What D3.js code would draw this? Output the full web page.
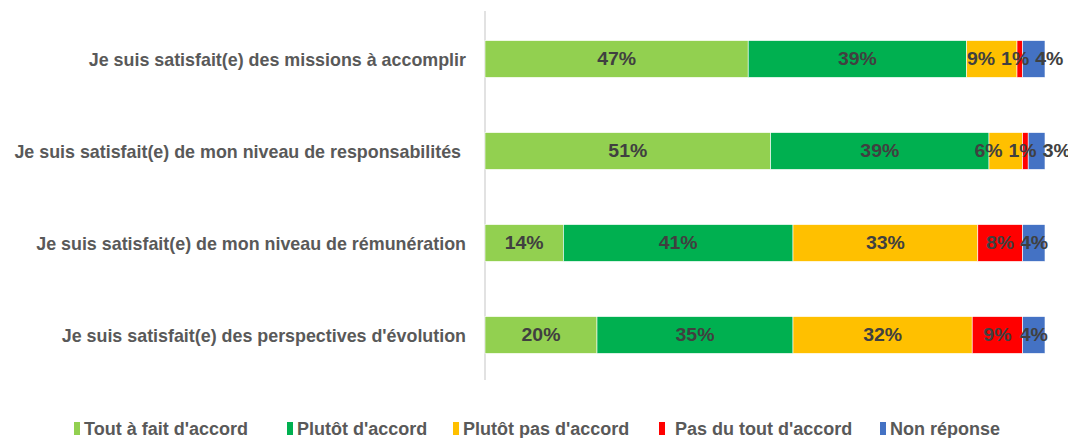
<!DOCTYPE html>
<html>
<head>
<meta charset="utf-8">
<script src="https://cdn.jsdelivr.net/npm/d3@7"></script>
<style>
    body { margin: 0; background: #fff; }
    text { font-family: "Liberation Sans", "DejaVu Sans", sans-serif; font-weight: bold; }
</style>
</head>
<body>
<div id="chart"></div>
<script>
/*
----------------------------------------------------
    Data
----------------------------------------------------
*/
const questions = [
    "Je suis satisfait(e) des missions à accomplir",
    "Je suis satisfait(e) de mon niveau de responsabilités ",
    "Je suis satisfait(e) de mon niveau de rémunération",
    "Je suis satisfait(e) des perspectives d'évolution"
];
const answers = ["Tout à fait d'accord", "Plutôt d'accord", "Plutôt pas d'accord", "Pas du tout d'accord", "Non réponse"];
const answerColors = ["#92D050", "#00B050", "#FFC000", "#FF0000", "#4472C4"];

// percentages per question, in the order of answers
const toutAFait = [47, 51, 14, 20];
const plutot = [39, 39, 41, 35];
const plutotPas = [9, 6, 33, 32];
const pasDuTout = [1, 1, 8, 9];
const nonReponse = [4, 3, 4, 4];

/*
----------------------------------------------------
    Utility functions
----------------------------------------------------
*/
// squeeze or stretch a text horizontally by a factor
function scaleTextWidth(sel, k) {
    sel.each(function () {
        var w = this.getComputedTextLength();
        d3.select(this)
            .attr("textLength", w * k)
            .attr("lengthAdjust", "spacingAndGlyphs");
    });
}

// push apart labels of one bar that overlap each other
function spreadLabels(labels, pad) {
    labels.sort((a, b) => a.cx - b.cx);
    for (var it = 0; it < 50; it++) {
        for (var i = 0; i < labels.length - 1; i++) {
            var a = labels[i], b = labels[i + 1];
            var overlap = (a.cx + a.w / 2 + pad) - (b.cx - b.w / 2);
            if (overlap > 0) {
                a.cx -= overlap / 2;
                b.cx += overlap / 2;
            }
        }
    }
}

/*
----------------------------------------------------
    Chart
----------------------------------------------------
*/
var width = 1068, height = 438;

var svg = d3.select("#chart")
    .append("svg")
    .attr("width", width)
    .attr("height", height);

var series = [toutAFait, plutot, plutotPas, pasDuTout, nonReponse];

// build rows for d3.stack
var rows = questions.map((q, i) => {
    var r = { question: q };
    answers.forEach((a, j) => r[a] = series[j][i]);
    return r;
});

var stacked = d3.stack().keys(answers)(rows);

var x = d3.scaleLinear()
    .domain([0, 100])
    .range([485, 1045]);

var y = d3.scaleBand()
    .domain(questions)
    .range([13, 381])
    .paddingInner(0.6)
    .paddingOuter(0.3);

var color = d3.scaleOrdinal()
    .domain(answers)
    .range(answerColors);

// vertical axis line
svg.append("line")
    .attr("x1", x(0)).attr("x2", x(0))
    .attr("y1", 11).attr("y2", 380)
    .attr("stroke", "#d9d9d9")
    .attr("stroke-width", 1.5);

// bars
var layers = svg.selectAll("g.layer")
    .data(stacked)
    .enter()
    .append("g")
    .attr("class", "layer")
    .attr("fill", d => color(d.key));

layers.selectAll("rect")
    .data(d => d)
    .enter()
    .append("rect")
    .attr("x", d => x(d[0]))
    .attr("y", d => y(d.data.question))
    .attr("width", d => x(d[1]) - x(d[0]))
    .attr("height", y.bandwidth())
    .attr("stroke", "#fff")
    .attr("stroke-width", 0.6);

// data labels, centered in each segment
var valueLabels = svg.append("g");
var labelData = [];
stacked.forEach(s => s.forEach(d => labelData.push({
    question: d.data.question,
    value: d[1] - d[0],
    cx: (x(d[0]) + x(d[1])) / 2
})));

var vl = valueLabels.selectAll("text")
    .data(labelData)
    .enter()
    .append("text")
    .attr("y", d => y(d.question) + y.bandwidth() / 2)
    .attr("dy", "0.32em")
    .attr("text-anchor", "middle")
    .attr("fill", "#404040")
    .style("font-size", "18px")
    .text(d => d.value + "%")
    .call(scaleTextWidth, 1.08)
    .each(function (d) { d.w = +this.getAttribute("textLength"); });

questions.forEach(q => spreadLabels(labelData.filter(d => d.question === q), 6));
vl.attr("x", d => d.cx);

// category labels
svg.selectAll("text.cat")
    .data(questions)
    .enter()
    .append("text")
    .attr("class", "cat")
    .attr("x", 466)
    .attr("y", d => y(d) + y.bandwidth() / 2)
    .attr("dy", "0.36em")
    .attr("text-anchor", "end")
    .attr("fill", "#595959")
    .style("font-size", "19px")
    .style("white-space", "pre")
    .text(d => d)
    .call(scaleTextWidth, 0.94);

// legend
var legendX = [74, 287, 453, 659, 880];
var legend = svg.selectAll("g.legend")
    .data(answers)
    .enter()
    .append("g")
    .attr("class", "legend")
    .attr("transform", (d, i) => "translate(" + legendX[i] + ",435)");

legend.append("rect")
    .attr("x", 0)
    .attr("y", -13)
    .attr("width", 6)
    .attr("height", 13)
    .attr("fill", d => color(d));

legend.append("text")
    .attr("x", (d, i) => i === 3 ? 16 : 10)
    .attr("y", 0)
    .attr("fill", "#595959")
    .style("font-size", "18px")
    .text(d => d);
</script>
</body>
</html>
